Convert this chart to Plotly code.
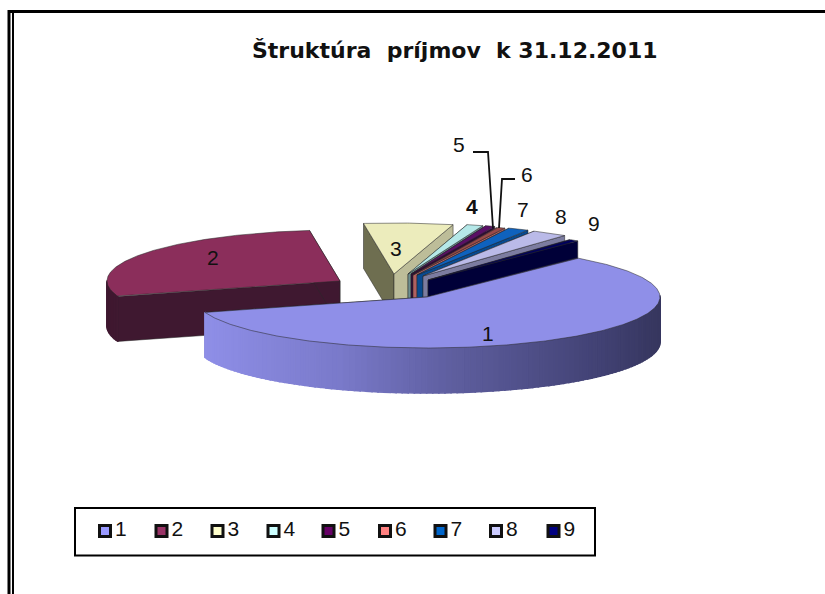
import numpy as np
import plotly.graph_objects as go

# ---- data ----
categories = ["1", "2", "3", "4", "5", "6", "7", "8", "9"]
values = [59.0, 27.8, 6.17, 1.12, 0.65, 0.6, 1.45, 2.5, 0.71]
title_text = "Štruktúra  príjmov  k 31.12.2011"

# ---- styles ----
legend_colors = ["#9999FF", "#993366", "#FFFFCC", "#CCFFFF", "#660066", "#FF8080", "#0066CC", "#CCCCFF", "#000080"]
top_colors = ["#8F8FE8", "#8B2E5B", "#ECECBC", "#B5E8E8", "#5A0F66", "#9A4A4A", "#0F62BE", "#BABAE8", "#00005C"]
start_face = ["#3F3F70", "#3F1830", "#6E6E50", "#6F9090", "#300838", "#905050", "#084A90", "#7C7CA0", "#000038"]
end_face = ["#3F3F70", "#3F1830", "#BDBD99", "#6F9090", "#300838", "#B06060", "#084A90", "#7C7CA0", "#000038"]
wall_stops_x = [205, 340, 450, 600, 660]
wall_stops_rgb = [(143, 143, 232), (122, 122, 202), (95, 95, 160), (66, 66, 116), (55, 55, 95)]

# ---- layout of the 3-D pie (pixels) ----
RX, RY, DEPTH = 233, 51, 45
START_ANGLE = 50.0
apex_x = [427, 340, 394, 408, 411, 413, 417, 423, 428]
apex_y = [297, 281, 274, 274, 274, 275, 275, 276, 280]
draw_order = [1, 2, 3, 4, 5, 6, 7, 8, 0]
label_x = [488, 213, 396, 472, 459, 527, 523, 561, 594]
label_y = [333, 257, 248, 206, 144, 174, 209, 216, 223]
label_bold = [False, False, False, True, False, False, False, False, False]
legend_x = [105, 161.5, 217.5, 273.5, 328.5, 385, 440.5, 496, 553.5]
legend_y = 531
legend_text_gap = 10

fig = go.Figure()


def poly(xs, ys, fill, line="rgba(40,40,40,0.75)", width=0.7):
    fig.add_trace(go.Scatter(
        x=list(xs), y=list(ys), mode="lines", fill="toself", fillcolor=fill,
        line=dict(color=line, width=width), hoverinfo="skip", showlegend=False))


total = sum(values)
spans = [v / total * 360 for v in values]
starts = START_ANGLE - np.concatenate([[0], np.cumsum(spans)[:-1]])

for i in draw_order:
    a0, a1 = starts[i], starts[i] - spans[i]
    cx, cy = apex_x[i], apex_y[i]
    ex0 = cx + RX * np.cos(np.radians(a0)); ey0 = cy - RY * np.sin(np.radians(a0))
    ex1 = cx + RX * np.cos(np.radians(a1)); ey1 = cy - RY * np.sin(np.radians(a1))
    # cut faces
    poly([cx, ex0, ex0, cx, cx], [cy, ey0, ey0 + DEPTH, cy + DEPTH, cy], start_face[i])
    poly([cx, ex1, ex1, cx, cx], [cy, ey1, ey1 + DEPTH, cy + DEPTH, cy], end_face[i])
    # outer wall, cut into strips (front part only)
    steps = max(2, int(spans[i] / 1.5))
    angs = np.linspace(a0, a1, steps + 1)
    for b0, b1 in zip(angs[:-1], angs[1:]):
        if np.sin(np.radians((b0 + b1) / 2)) > 0.02:
            continue
        xs = cx + RX * np.cos(np.radians([b0, b1]))
        ys = cy - RY * np.sin(np.radians([b0, b1]))
        if i == 0:
            mx = xs.mean()
            rgb = [np.interp(mx, wall_stops_x, [c[k] for c in wall_stops_rgb]) for k in range(3)]
            col = "rgb(%d,%d,%d)" % tuple(rgb)
        else:
            col = start_face[i]
        poly([xs[0], xs[1], xs[1], xs[0], xs[0]],
             [ys[0], ys[1], ys[1] + DEPTH, ys[0] + DEPTH, ys[0]], col, line=col, width=1.6)
    # top face
    arc = np.radians(np.linspace(a0, a1, max(8, int(spans[i] * 2))))
    poly(np.r_[cx, cx + RX * np.cos(arc), cx], np.r_[cy, cy - RY * np.sin(arc), cy], top_colors[i])

# leader lines
fig.add_trace(go.Scatter(x=[473, 488, 493], y=[152, 152, 228], mode="lines",
                         line=dict(color="#111111", width=1.8), hoverinfo="skip", showlegend=False))
fig.add_trace(go.Scatter(x=[515, 502, 499], y=[179, 179, 228], mode="lines",
                         line=dict(color="#111111", width=1.8), hoverinfo="skip", showlegend=False))

# slice labels
for c, x, y, b in zip(categories, label_x, label_y, label_bold):
    fig.add_annotation(x=x, y=y, text=f"<b>{c}</b>" if b else c, showarrow=False,
                       font=dict(family="Liberation Sans", size=21, color="#111111"))

# legend
fig.add_trace(go.Scatter(
    x=legend_x, y=[legend_y] * len(legend_x), mode="markers",
    marker=dict(symbol="square", size=11, color=legend_colors, line=dict(color="#111111", width=3)),
    hoverinfo="skip", showlegend=False))
fig.add_trace(go.Scatter(
    x=[v + legend_text_gap for v in legend_x], y=[legend_y] * len(legend_x), mode="text", text=categories,
    textposition="middle right", textfont=dict(family="Liberation Sans", size=21, color="#111111"),
    hoverinfo="skip", showlegend=False))

frame = dict(color="#000000", width=3)
shapes = [
    dict(type="line", x0=9, x1=9, y0=10, y1=594, line=frame),
    dict(type="line", x0=13, x1=13, y0=11, y1=594, line=dict(color="#000000", width=2)),
    dict(type="line", x0=8, x1=825, y0=11.5, y1=11.5, line=frame),
    dict(type="rect", x0=75, x1=595, y0=508, y1=555.5, line=dict(color="#000000", width=2)),
]

fig.add_annotation(x=455, y=50, text=f"<b>{title_text}</b>", showarrow=False,
                   font=dict(family="DejaVu Sans", size=22, color="#111111"))

fig.update_layout(
    width=825, height=594, margin=dict(l=0, r=0, t=0, b=0),
    paper_bgcolor="white", plot_bgcolor="white", showlegend=False, shapes=shapes,
    xaxis=dict(range=[0, 825], visible=False, fixedrange=True),
    yaxis=dict(range=[594, 0], visible=False, fixedrange=True),
)
fig.write_html("out.html", config={"displayModeBar": False},
               post_script="document.body.style.margin='0';document.documentElement.style.overflow='hidden';")
